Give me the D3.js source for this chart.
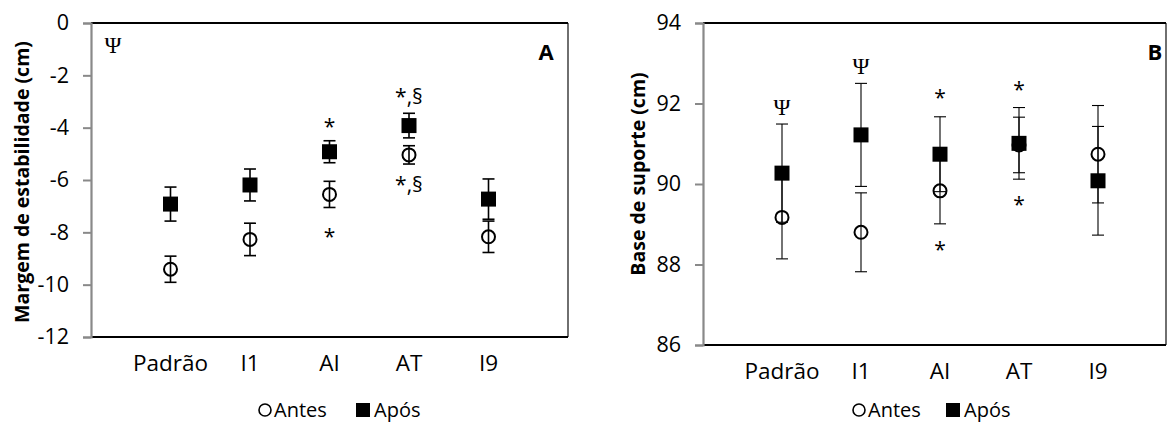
<!DOCTYPE html>
<html>
<head>
<meta charset="utf-8">
<style>
body { margin: 0; background: #fff; }
svg { display: block; font-family: "Open Sans", sans-serif; }
</style>
</head>
<body>
<div id="chart"></div>
<script src="https://d3js.org/d3.v7.min.js"></script>
<script>
// categories shared by both panels
var categories = ["Padrão", "I1", "AI", "AT", "I9"];

// Panel A - margem de estabilidade (cm)
var estabAntes = [-9.41, -8.27, -6.55, -5.04, -8.17];
var estabAntesErr = [0.50, 0.62, 0.50, 0.35, 0.60];
var estabApos = [-6.92, -6.19, -4.92, -3.92, -6.73];
var estabAposErr = [0.65, 0.61, 0.42, 0.47, 0.77];
var estabTicks = [0, -2, -4, -6, -8, -10, -12];
var estabNotes = [
  { cat: "AI", value: -3.78, text: "*" },
  { cat: "AI", value: -7.99, text: "*" },
  { cat: "AT", value: -2.78, text: "*,§" },
  { cat: "AT", value: -6.15, text: "*,§" }
];

// Panel B - base de suporte (cm)
var baseAntes = [89.17, 88.80, 89.83, 90.97, 90.74];
var baseAntesErr = [1.03, 0.98, 0.82, 0.69, 1.21];
var baseApos = [90.27, 91.22, 90.74, 91.01, 90.08];
var baseAposErr = [1.22, 1.28, 0.93, 0.89, 1.35];
var baseTicks = [94, 92, 90, 88, 86];
var baseNotes = [
  { cat: "Padrão", value: 91.89, text: "Ψ", serif: true },
  { cat: "I1", value: 92.93, text: "Ψ", serif: true },
  { cat: "AI", value: 92.26, text: "*" },
  { cat: "AI", value: 88.48, text: "*" },
  { cat: "AT", value: 92.46, text: "*" },
  { cat: "AT", value: 89.60, text: "*" }
];

var svg = d3.select("#chart")
  .append("svg")
  .attr("width", 1167)
  .attr("height", 423);

function drawPanel(p) {
  var g = svg.append("g");

  var x = d3.scalePoint()
    .domain(categories)
    .range([p.left, p.right])
    .padding(1);

  var y = d3.scaleLinear()
    .domain(p.domain)
    .range([p.bottom, p.top]);

  // plot frame (panel B runs past the right edge of the page)
  var frameRight = Math.min(p.right, 1166);
  g.append("line")
    .attr("x1", frameRight).attr("x2", frameRight)
    .attr("y1", p.top).attr("y2", p.bottom)
    .attr("stroke", "#222").attr("stroke-width", 1.3);
  g.append("line")
    .attr("x1", p.left).attr("x2", frameRight)
    .attr("y1", p.top).attr("y2", p.top)
    .attr("stroke", "#000").attr("stroke-width", 2);

  // x axis (black baseline, no ticks)
  g.append("line")
    .attr("x1", p.left).attr("x2", frameRight)
    .attr("y1", p.bottom).attr("y2", p.bottom)
    .attr("stroke", "#000").attr("stroke-width", 2);
  g.selectAll(".xlab")
    .data(categories)
    .enter().append("text")
    .attr("x", function(d) { return x(d); })
    .attr("y", p.bottom + 34)
    .attr("text-anchor", "middle")
    .style("font-size", "22.5px")
    .text(function(d) { return d; });

  // y axis
  var yAxis = g.append("g")
    .attr("transform", "translate(" + p.left + ",0)")
    .call(d3.axisLeft(y).tickValues(p.ticks).tickSize(8).tickPadding(14)
      .tickFormat(function(d) { return d < 0 ? "-" + Math.abs(d) : d; }));
  yAxis.select(".domain").attr("stroke", "#898989").attr("stroke-width", 2.2);
  yAxis.selectAll(".tick line").attr("stroke", "#898989").attr("stroke-width", 2);
  yAxis.selectAll(".tick text")
    .attr("fill", "#000")
    .style("font-family", "'Open Sans', sans-serif")
    .style("font-size", "21.5px");

  g.append("text")
    .attr("transform", "translate(" + p.titleX + "," + p.titleY + ") rotate(-90)")
    .attr("text-anchor", "middle")
    .attr("dominant-baseline", "central")
    .style("font-size", "19.5px")
    .style("font-weight", "bold")
    .text(p.title);

  // error bars + markers, Antes first then Após on top
  var series = [
    { values: p.antes, err: p.antesErr, kind: "circle" },
    { values: p.apos, err: p.aposErr, kind: "square" }
  ];
  series.forEach(function(s) {
    var rows = categories.map(function(c, i) {
      return { cat: c, v: s.values[i], e: s.err[i] };
    });
    var eb = g.append("g")
      .attr("stroke", "#000")
      .attr("stroke-width", p.barWidth);
    eb.selectAll(".stem").data(rows).enter().append("line")
      .attr("x1", function(d) { return x(d.cat); })
      .attr("x2", function(d) { return x(d.cat); })
      .attr("y1", function(d) { return y(d.v - d.e); })
      .attr("y2", function(d) { return y(d.v + d.e); });
    [-1, 1].forEach(function(sign) {
      eb.selectAll(".cap" + sign).data(rows).enter().append("line")
        .attr("x1", function(d) { return x(d.cat) - 6; })
        .attr("x2", function(d) { return x(d.cat) + 6; })
        .attr("y1", function(d) { return y(d.v + sign * d.e); })
        .attr("y2", function(d) { return y(d.v + sign * d.e); });
    });
    if (s.kind === "circle") {
      g.selectAll(".mk").data(rows).enter().append("circle")
        .attr("cx", function(d) { return x(d.cat); })
        .attr("cy", function(d) { return y(d.v); })
        .attr("r", 6.5)
        .attr("fill", "none")
        .attr("stroke", "#000")
        .attr("stroke-width", 2);
    } else {
      g.selectAll(".mk").data(rows).enter().append("rect")
        .attr("x", function(d) { return x(d.cat) - 7.5; })
        .attr("y", function(d) { return y(d.v) - 7.5; })
        .attr("width", 15).attr("height", 15)
        .attr("fill", "#000");
    }
  });

  // significance marks
  g.selectAll(".note").data(p.notes).enter().append("text")
    .attr("x", function(d) { return x(d.cat); })
    .attr("y", function(d) { return y(d.value); })
    .attr("dy", function(d) { return d.text === "*" ? "0.2em" : "0"; })
    .attr("text-anchor", "middle")
    .attr("dominant-baseline", "central")
    .style("font-family", function(d) { return d.serif ? "'Liberation Serif', serif" : "'Open Sans', sans-serif"; })
    .style("font-size", function(d) { return d.serif ? "23px" : "21px"; })
    .text(function(d) { return d.text; });

  if (p.psi) {
    g.append("text")
      .attr("x", p.left + 22).attr("y", p.top + 22)
      .attr("text-anchor", "middle")
      .attr("dominant-baseline", "central")
      .style("font-family", "'Liberation Serif', serif")
      .style("font-size", "23px")
      .text("Ψ");
  }

  g.append("text")
    .attr("x", p.letterX).attr("y", p.top + 28)
    .attr("text-anchor", "middle")
    .attr("dominant-baseline", "central")
    .style("font-size", "22px")
    .style("font-weight", "bold")
    .text(p.letter);

  // legend (text on alphabetic baseline so the descenders stay on the page)
  var leg = g.append("g").attr("transform", "translate(" + p.legendX + "," + p.legendY + ")");
  leg.append("circle").attr("cx", 0).attr("cy", 0).attr("r", 6)
    .attr("fill", "none").attr("stroke", "#000").attr("stroke-width", 1.6);
  leg.append("text").attr("x", 9).attr("y", 7)
    .style("font-size", "20px").text("Antes");
  leg.append("rect").attr("x", p.legendGap).attr("y", -7).attr("width", 14).attr("height", 14)
    .attr("fill", "#000");
  leg.append("text").attr("x", p.legendGap + 18).attr("y", 7)
    .style("font-size", "20px").text("Após");
}

drawPanel({
  left: 91, right: 568, top: 23, bottom: 337,
  domain: [-12, 0], ticks: estabTicks,
  antes: estabAntes, antesErr: estabAntesErr,
  apos: estabApos, aposErr: estabAposErr,
  notes: estabNotes, psi: true, barWidth: 1.6,
  title: "Margem de estabilidade (cm)", titleX: 21, titleY: 182,
  letter: "A", letterX: 546,
  legendX: 265, legendY: 410, legendGap: 91
});

drawPanel({
  left: 703, right: 1177, top: 23, bottom: 345,
  domain: [86, 94], ticks: baseTicks,
  antes: baseAntes, antesErr: baseAntesErr,
  apos: baseApos, aposErr: baseAposErr,
  notes: baseNotes, psi: false, barWidth: 1.1,
  title: "Base de suporte (cm)", titleX: 637, titleY: 174,
  letter: "B", letterX: 1155,
  legendX: 859, legendY: 410, legendGap: 87
});
</script>
</body>
</html>
